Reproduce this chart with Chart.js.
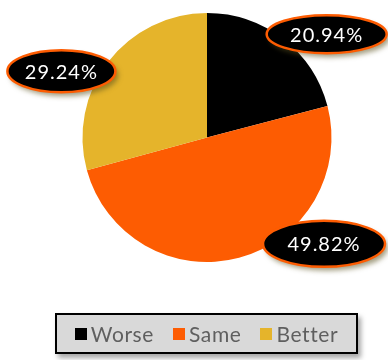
<!DOCTYPE html>
<html lang="en">
<head>
    <meta charset="UTF-8">
    <title>Worse / Same / Better</title>
    <script src="https://cdn.jsdelivr.net/npm/chart.js"></script>
    <style>
        body {
            margin: 0;
            padding: 0;
            background: #ffffff;
            font-family: Lato, "Open Sans", sans-serif;
        }
        .wrap {
            position: relative;
            width: 388px;
            height: 360px;
        }
        #graficoPizza {
            position: absolute;
            left: 0;
            top: 0;
        }
        #legenda {
            position: absolute;
            left: 55px;
            top: 313px;
            width: 299px;
            height: 37px;
            box-sizing: content-box;
            background: #d9d9d9;
            border: 2px solid #000000;
            box-shadow: 3px 4px 5px rgba(0, 0, 0, 0.35);
            display: flex;
            align-items: center;
            justify-content: center;
            gap: 19px;
            font-size: 21px;
            letter-spacing: 0.6px;
            color: #5f5f5f;
        }
        #legenda .item {
            display: flex;
            align-items: center;
        }
        #legenda .caixa {
            width: 12px;
            height: 12px;
            margin-right: 4px;
        }
    </style>
</head>
<body>
    <div class="wrap">
        <canvas id="graficoPizza" width="388" height="360"></canvas>
        <div id="legenda"></div>
    </div>

    <script>
        // categorias e valores (%)
        const categorias = ['Worse', 'Same', 'Better'];
        const valores = [20.94, 49.82, 29.24];
        const cores = ['#000000', '#fd5c02', '#e5b42b'];

        // etiquetas em elipse pretas com borda laranja
        const rotulosElipse = {
            id: 'rotulosElipse',
            afterDatasetsDraw(chart, args, opts) {
                const ctx = chart.ctx;
                const arcos = chart.getDatasetMeta(0).data;
                ctx.save();
                ctx.font = '20px Lato, "Open Sans", sans-serif';
                ctx.letterSpacing = '1px';
                ctx.textAlign = 'center';
                ctx.textBaseline = 'middle';
                arcos.forEach((arco, i) => {
                    const meio = (arco.startAngle + arco.endAngle) / 2 + opts.desvio[i] * Math.PI / 180;
                    const r = arco.outerRadius * opts.distancia[i];
                    const x = arco.x + Math.cos(meio) * r;
                    const y = arco.y + Math.sin(meio) * r;
                    const texto = valores[i].toFixed(2) + '%';
                    const rx = opts.largura[i];
                    const ry = opts.altura[i];

                    ctx.beginPath();
                    ctx.ellipse(x, y, rx, ry, 0, 0, Math.PI * 2);
                    ctx.shadowColor = 'rgba(90, 80, 30, 0.55)';
                    ctx.shadowBlur = 5;
                    ctx.shadowOffsetX = 3;
                    ctx.shadowOffsetY = 4;
                    ctx.fillStyle = '#000000';
                    ctx.fill();
                    ctx.shadowColor = 'transparent';
                    ctx.lineWidth = 2.5;
                    ctx.strokeStyle = '#fd5c02';
                    ctx.stroke();

                    ctx.fillStyle = '#ffffff';
                    ctx.fillText(texto, x, y + 1);
                });
                ctx.restore();
            }
        };

        new Chart(document.getElementById('graficoPizza'), {
            type: 'pie',
            data: {
                labels: categorias,
                datasets: [{
                    data: valores,
                    backgroundColor: cores,
                    borderWidth: 0
                }]
            },
            options: {
                responsive: false,
                animation: false,
                layout: {
                    padding: { left: 26, right: 0, top: 13, bottom: 98 }
                },
                plugins: {
                    legend: { display: false },
                    tooltip: { enabled: false },
                    rotulosElipse: {
                        desvio: [11.5, -32.8, -12.9],
                        distancia: [1.27, 1.27, 1.285],
                        largura: [60, 61, 54],
                        altura: [19, 23, 21]
                    }
                }
            },
            plugins: [rotulosElipse]
        });

        // legenda em caixa cinza
        const legenda = document.getElementById('legenda');
        categorias.forEach((nome, i) => {
            const item = document.createElement('div');
            item.className = 'item';
            const caixa = document.createElement('span');
            caixa.className = 'caixa';
            caixa.style.background = cores[i];
            const texto = document.createElement('span');
            texto.textContent = nome;
            item.appendChild(caixa);
            item.appendChild(texto);
            legenda.appendChild(item);
        });
    </script>
</body>
</html>
